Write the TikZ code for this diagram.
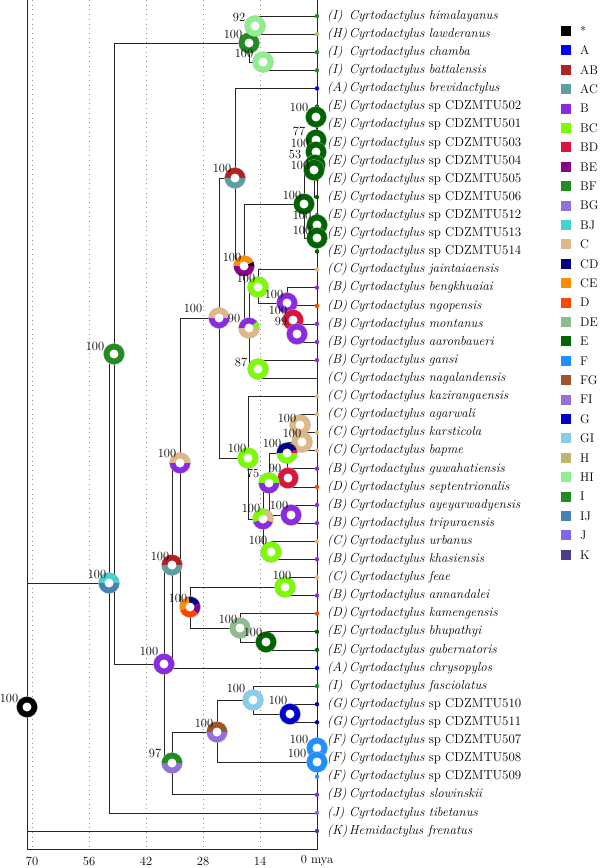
\documentclass[tikz,border=0pt]{standalone}
\usepackage{xcolor}
\usetikzlibrary{calc,positioning}
% area colours
\definecolor{arStar}{RGB}{0,0,0}
\definecolor{arA}{RGB}{0,0,255}
\definecolor{arAB}{RGB}{178,34,34}
\definecolor{arAC}{RGB}{95,158,160}
\definecolor{arB}{RGB}{138,43,226}
\definecolor{arBC}{RGB}{124,252,0}
\definecolor{arBD}{RGB}{220,20,60}
\definecolor{arBE}{RGB}{139,0,139}
\definecolor{arBF}{RGB}{34,139,34}
\definecolor{arBG}{RGB}{147,112,219}
\definecolor{arBJ}{RGB}{72,209,204}
\definecolor{arC}{RGB}{222,184,135}
\definecolor{arCD}{RGB}{0,0,128}
\definecolor{arCE}{RGB}{255,140,0}
\definecolor{arD}{RGB}{255,69,0}
\definecolor{arDE}{RGB}{143,188,143}
\definecolor{arE}{RGB}{0,100,0}
\definecolor{arF}{RGB}{30,144,255}
\definecolor{arFG}{RGB}{160,82,45}
\definecolor{arFI}{RGB}{147,112,219}
\definecolor{arG}{RGB}{0,0,205}
\definecolor{arGI}{RGB}{135,206,235}
\definecolor{arH}{RGB}{189,183,107}
\definecolor{arHI}{RGB}{144,238,144}
\definecolor{arI}{RGB}{34,139,34}
\definecolor{arIJ}{RGB}{70,130,180}
\definecolor{arJ}{RGB}{123,104,238}
\definecolor{arK}{RGB}{72,61,139}
\tikzset{
    branch/.style={draw=black!85, line width=0.6pt}, % tree branches
    grid line/.style={gray!85, line width=0.7pt, dash pattern=on 0.7pt off 4pt}, % time grid
    frame/.style={black!85, line width=0.7pt},
    taxon/.style={anchor=west, inner sep=0pt, xshift=10pt, font=\fontsize{13}{15}\selectfont},
    support/.style={inner sep=0pt, font=\fontsize{12.5}{14}\selectfont}, % bootstrap values
    axis label/.style={inner sep=0pt, font=\fontsize{12.5}{14}\selectfont},
    legend text/.style={anchor=west, inner sep=0pt, font=\fontsize{12.5}{14}\selectfont},
}
\newcommand{\ringout}{10.5}
\newcommand{\ringin}{4.5}
% ring of area probabilities: centre, slices (from/to/colour), value, value position
\newcommand{\donut}[4]{%
    \foreach \sa/\sb/\sc in {#2}
        \fill[\sc] (#1) -- ++(-\sa:\ringout) arc[start angle=-\sa, end angle=-\sb, radius=\ringout] -- cycle;
    \draw[gray!60, line width=0.3pt] (#1) circle (\ringout);
    \fill[white] (#1) circle (\ringin);
    \node[support] (l#1) at #4 {#3};
}
\newcommand{\tagarea}[1]{\makebox[22pt][l]{\textit{(#1)}}}

\begin{document}
\begin{tikzpicture}[x=1pt, y=-1pt]
    \useasboundingbox (0,0) rectangle (600,868);

    % time grid and frame
    \foreach \gx in {32,89,146,203,260}
        \draw[grid line] (\gx,0) -- (\gx,849);
    \draw[frame] (27,0) -- (27,849) -- (317,849) -- (317,0);
    \foreach \gx/\gt in {32/70, 89/56, 146/42, 203/28, 260/14, 317/0 mya}
        \node[axis label] (ax\gx) at (\gx,861) {\gt};

    % tips
    \foreach \i in {1,...,46}
        \coordinate (t\i) at (317,{16+(\i-1)*18.11});

    % internal nodes
    \coordinate (root) at (27,707);
    \coordinate (nX) at (109,583);
    \coordinate (nA) at (114,354);
    \coordinate (nHI) at (249,43);
    \coordinate (n92) at (255,26);
    \coordinate (nCB) at (263,62);
    \coordinate (nB) at (164,664);
    \coordinate (nD) at (172,565);
    \coordinate (nF) at (180,463);
    \coordinate (nH) at (219,318);
    \coordinate (nJ) at (235,178);
    \coordinate (nU) at (244,266);
    \coordinate (nV) at (304,204);
    \coordinate (nE5) at (314,170);
    \coordinate (nE4) at (315,165);
    \coordinate (nE3) at (316,152);
    \coordinate (nE2) at (316,140);
    \coordinate (nE1) at (316,117);
    \coordinate (nE7) at (317,238);
    \coordinate (nE6) at (317,225);
    \coordinate (nW) at (249,328);
    \coordinate (nZ) at (258,287);
    \coordinate (nAA) at (287,303);
    \coordinate (nAB) at (293,320);
    \coordinate (nAC) at (297,334);
    \coordinate (n87) at (258,369);
    \coordinate (nK) at (248,458);
    \coordinate (nL) at (263,519);
    \coordinate (nO) at (269,483);
    \coordinate (nP) at (287,453);
    \coordinate (nT) at (302,442);
    \coordinate (nS) at (300,425);
    \coordinate (nR) at (288,478);
    \coordinate (nN) at (291,515);
    \coordinate (nM) at (271,552);
    \coordinate (nI) at (190,607);
    \coordinate (nFA) at (285,587);
    \coordinate (nDE) at (240,628);
    \coordinate (nBG) at (266,642);
    \coordinate (n97) at (172,763);
    \coordinate (nFG) at (217,732);
    \coordinate (nGI) at (253,700);
    \coordinate (nG) at (290,714);
    \coordinate (nF2) at (317,762);
    \coordinate (nF1) at (317,748);

    % branches
    \foreach \p/\c in {root/nX, root/t46, nX/nA, nX/t45, nA/nHI, nA/nB,
            nHI/n92, nHI/nCB, n92/t1, n92/t2, nCB/t3, nCB/t4,
            nB/nD, nB/n97, nD/nF, nD/t37, nF/nH, nF/nI, nH/nJ, nH/nK,
            nJ/t5, nJ/nU, nU/nV, nU/nW, nV/nE5, nV/nE7,
            nE5/nE2, nE5/t11, nE2/nE1, nE2/nE4, nE1/t6, nE1/t7,
            nE4/nE3, nE4/t10, nE3/t8, nE3/t9, nE7/nE6, nE7/t14, nE6/t12, nE6/t13,
            nW/nZ, nW/n87, nZ/t15, nZ/nAA, nAA/t16, nAA/nAB, nAB/t17, nAB/nAC,
            nAC/t18, nAC/t19, n87/t20, n87/t21,
            nK/t22, nK/nL, nL/nO, nL/nM, nO/nP, nO/nN, nP/nT, nP/nR,
            nT/nS, nT/t25, nS/t23, nS/t24, nR/t26, nR/t27, nN/t28, nN/t29,
            nM/t30, nM/t31, nI/nFA, nI/nDE, nFA/t32, nFA/t33,
            nDE/t34, nDE/nBG, nBG/t35, nBG/t36,
            n97/nFG, n97/t44, nFG/nGI, nFG/nF2, nGI/t38, nGI/nG,
            nG/t39, nG/t40, nF2/nF1, nF2/t43, nF1/t41, nF1/t42}
        \draw[branch] (\p) |- (\c);

    % tip dots and names
    \foreach \i/\ar/\nm in {1/I/\textit{himalayanus}, 2/H/\textit{lawderanus},
            3/I/\textit{chamba}, 4/I/\textit{battalensis}, 5/A/\textit{brevidactylus},
            6/E/sp CDZMTU502, 7/E/sp CDZMTU501, 8/E/sp CDZMTU503, 9/E/sp CDZMTU504,
            10/E/sp CDZMTU505, 11/E/sp CDZMTU506, 12/E/sp CDZMTU512, 13/E/sp CDZMTU513,
            14/E/sp CDZMTU514, 15/C/\textit{jaintaiaensis}, 16/B/\textit{bengkhuaiai},
            17/D/\textit{ngopensis}, 18/B/\textit{montanus}, 19/B/\textit{aaronbaueri},
            20/B/\textit{gansi}, 21/C/\textit{nagalandensis}, 22/C/\textit{kazirangaensis},
            23/C/\textit{agarwali}, 24/C/\textit{karsticola}, 25/C/\textit{bapme},
            26/B/\textit{guwahatiensis}, 27/D/\textit{septentrionalis},
            28/B/\textit{ayeyarwadyensis}, 29/B/\textit{tripuraensis}, 30/C/\textit{urbanus},
            31/B/\textit{khasiensis}, 32/C/\textit{feae}, 33/B/\textit{annandalei},
            34/D/\textit{kamengensis}, 35/E/\textit{bhupathyi}, 36/E/\textit{gubernatoris},
            37/A/\textit{chrysopylos}, 38/I/\textit{fasciolatus}, 39/G/sp CDZMTU510,
            40/G/sp CDZMTU511, 41/F/sp CDZMTU507, 42/F/sp CDZMTU508, 43/F/sp CDZMTU509,
            44/B/\textit{slowinskii}, 45/J/\textit{tibetanus}}{
        \ifnum\i=21\else\fill[ar\ar] (t\i) circle (2.2);\fi
        \node[taxon] (lab\i) at (t\i) {\tagarea{\ar}\textit{Cyrtodactylus} \nm};
    }
    \fill[arK] (t46) circle (2.2);
    \node[taxon] (lab46) at (t46) {\tagarea{K}\textit{Hemidactylus frenatus}};

    % ancestral area rings
    \donut{root}{0/360/arStar}{100}{(9,698)}
    \donut{nX}{0/180/arBJ,180/360/arIJ}{100}{(97,574)}
    \donut{nA}{0/360/arBF}{100}{(95,346)}
    \donut{nHI}{0/360/arI}{100}{(233,34)}
    \donut{n92}{0/360/arHI}{92}{(239,17)}
    \donut{nCB}{0/360/arHI}{100}{(244,53)}
    \donut{nJ}{0/180/arAB,180/360/arAC}{100}{(222,168)}
    \donut{nU}{0/25/arStar,25/180/arCE,180/360/arBE}{100}{(232,257)}
    \donut{nV}{0/360/arE}{100}{(292,195)}
    \donut{nE1}{0/360/arE}{100}{(299,107)}
    \donut{nE2}{0/360/arE}{77}{(299,131)}
    \donut{nE3}{0/360/arE}{100}{(300,143)}
    \donut{nE4}{0/360/arE}{53}{(295,154)}
    \donut{nE5}{0/360/arE}{100}{(300,165)}
    \donut{nE6}{0/360/arE}{100}{(302,215)}
    \donut{nE7}{0/360/arE}{100}{(302,230)}
    \donut{nH}{0/180/arC,180/360/arB}{100}{(193,308)}
    \donut{nW}{0/40/arBC,40/180/arB,180/360/arC}{90}{(234,318)}
    \donut{nZ}{0/360/arBC}{100}{(246,278)}
    \donut{nAA}{0/360/arB}{100}{(274,294)}
    \donut{nAB}{0/360/arBD}{100}{(278,310)}
    \donut{nAC}{0/360/arB}{99}{(281,321)}
    \donut{n87}{0/360/arBC}{87}{(241,362)}
    \donut{nK}{0/360/arBC}{100}{(237,448)}
    \donut{nS}{0/360/arC}{100}{(287,418)}
    \donut{nT}{0/360/arC}{100}{(292,433)}
    \donut{nP}{0/20/arBD,20/180/arCD,180/360/arBC}{100}{(272,443)}
    \donut{nR}{0/360/arBD}{90}{(275,468)}
    \donut{nO}{0/180/arBC,180/360/arB}{75}{(253,473)}
    \donut{nN}{0/360/arB}{100}{(279,505)}
    \donut{nL}{-20/70/arC,70/200/arBC,200/340/arB}{100}{(251,508)}
    \donut{nM}{0/360/arBC}{100}{(258,540)}
    \donut{nF}{0/180/arC,180/360/arB}{100}{(167,453)}
    \donut{nI}{20/100/arCD,100/200/arCE,200/320/arD,320/380/arBE}{100}{(178,598)}
    \donut{nFA}{0/360/arBC}{100}{(282,575)}
    \donut{nDE}{0/360/arDE}{100}{(228,619)}
    \donut{nBG}{0/360/arE}{100}{(253,632)}
    \donut{nD}{0/180/arAB,180/360/arAC}{100}{(160,556)}
    \donut{nB}{0/360/arB}{100}{(149,651)}
    \donut{n97}{0/180/arBF,180/360/arFI}{97}{(155,753)}
    \donut{nFG}{0/180/arFG,180/360/arFI}{100}{(204,723)}
    \donut{nGI}{0/360/arGI}{100}{(236,688)}
    \donut{nG}{0/360/arG}{100}{(278,700)}
    \donut{nF1}{0/360/arF}{100}{(299,739)}
    \donut{nF2}{0/360/arF}{100}{(297,753)}

    % legend
    \foreach \c/\t [count=\k from 0] in {arStar/*, arA/A, arAB/AB, arAC/AC, arB/B, arBC/BC,
            arBD/BD, arBE/BE, arBF/BF, arBG/BG, arBJ/BJ, arC/C, arCD/CD, arCE/CE, arD/D,
            arDE/DE, arE/E, arF/F, arFG/FG, arFI/FI, arG/G, arGI/GI, arH/H, arHI/HI,
            arI/I, arIJ/IJ, arJ/J, arK/K}{
        \fill[\c] (561,{26+\k*19.4}) rectangle ++(10,10);
        \node[legend text] (key\k) at (580,{31+\k*19.4}) {\t};
    }
\end{tikzpicture}
\end{document}
